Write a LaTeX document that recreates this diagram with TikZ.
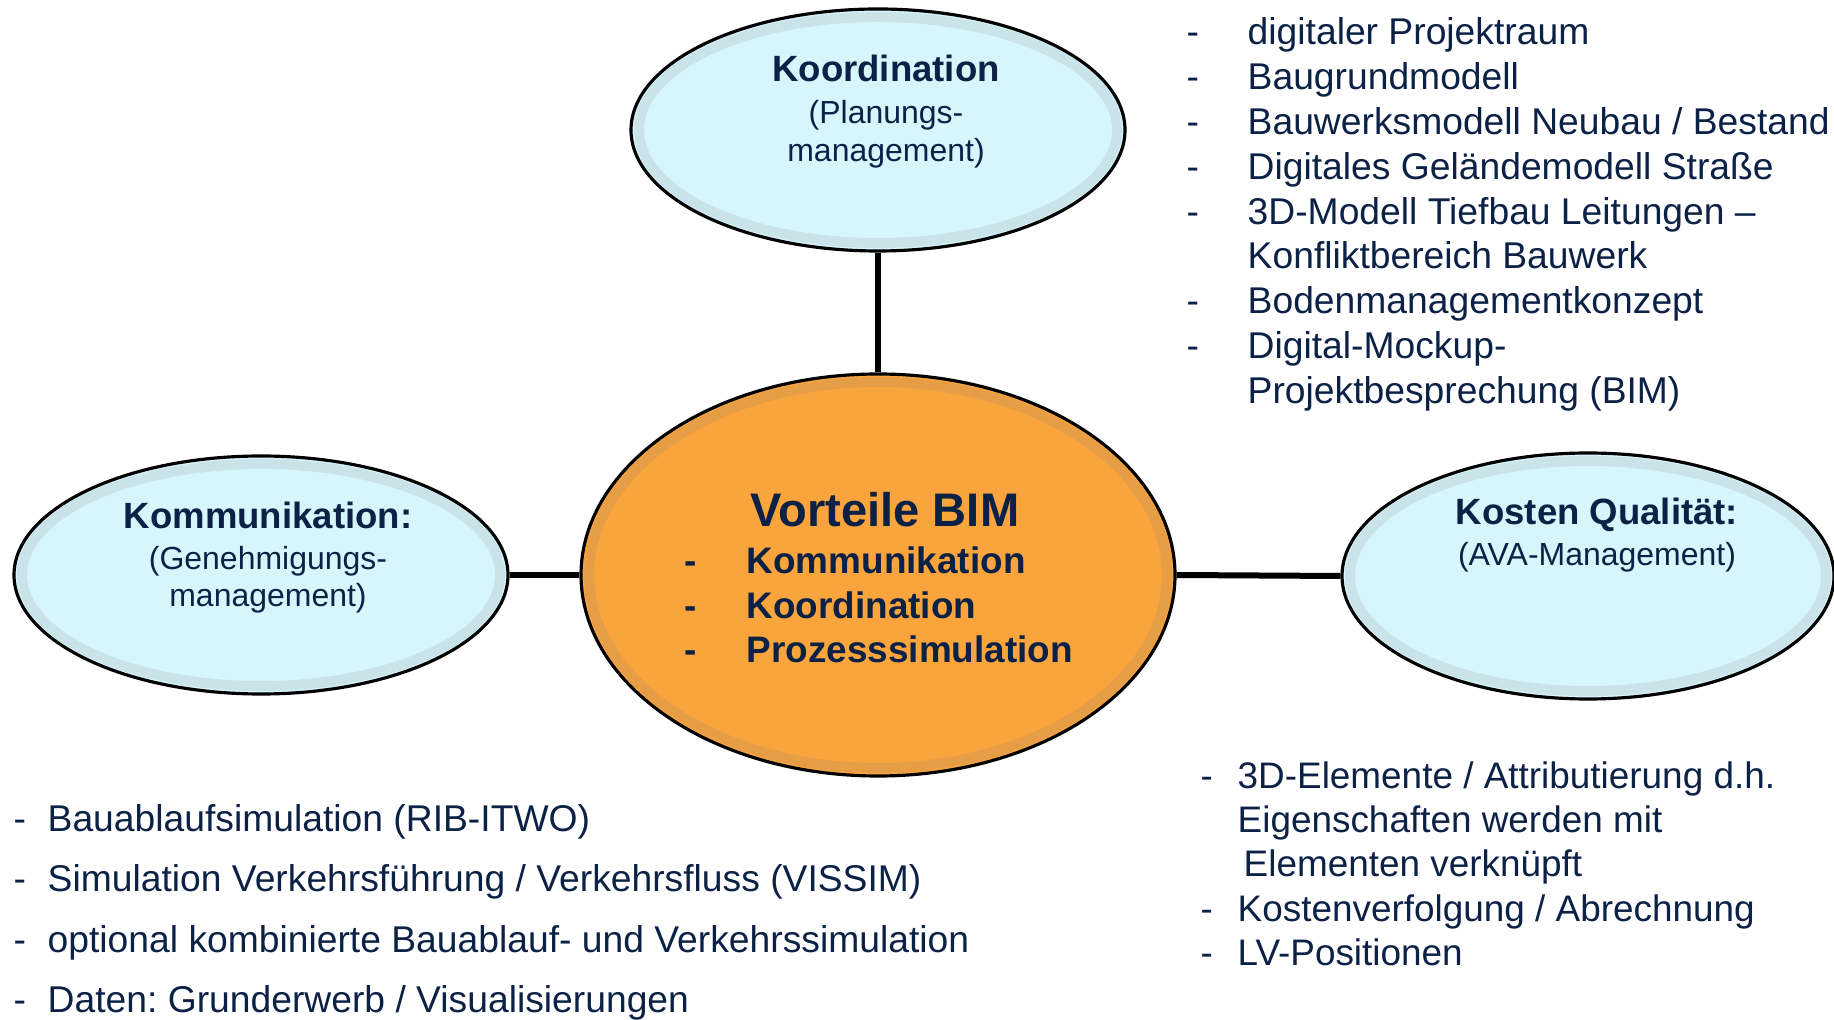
\documentclass[tikz,border=0pt]{standalone}
\usepackage{fontspec}
\setmainfont{Liberation Sans}
\usetikzlibrary{shapes.geometric}
\frenchspacing

\begin{document}
\begin{tikzpicture}[
    blase/.style={ellipse, draw=black, line width=0.9pt, inner sep=0pt},
    rand/.style={line width=0.10cm, draw=gray, opacity=0.16},
    verbinder/.style={line width=0.06cm, draw=black},
    kopf/.style={font=\fontsize{10.4}{12.5}\selectfont\bfseries, text=r12g33b70, inner sep=0pt},
    unterzeile/.style={font=\fontsize{9.1}{11}\selectfont, text=r12g33b70, inner sep=0pt},
    punkt/.style={font=\fontsize{10.6}{12.7}\selectfont, text=r12g33b70, inner sep=0pt, anchor=base west},
    mitte/.style={font=\fontsize{10.5}{12.7}\selectfont\bfseries, text=r12g33b70, inner sep=0pt, anchor=base west}
  ]
  \useasboundingbox (0,0) rectangle (18.340000,10.190000);

  % Changing color 215 246 252
  \definecolor{r215g246b252}{rgb}{0.843137,0.964706,0.988235}%
  % Changing color 249 164 60
  \definecolor{r249g164b60}{rgb}{0.976471,0.643137,0.235294}%
  % Changing color 12 33 70
  \definecolor{r12g33b70}{rgb}{0.047059,0.129412,0.274510}%

  % Drawing ellipse Koordination
  \node [blase, fill=r215g246b252, minimum width=4.940000cm, minimum height=2.420000cm] (koord) at (8.780000,8.890000) {};
  \draw [rand] (koord.center) ellipse (2.390000 and 1.130000);%

  % Drawing ellipse Vorteile BIM
  \node [blase, fill=r249g164b60, minimum width=5.940000cm, minimum height=4.020000cm] (vorteile) at (8.780000,4.440000) {};
  \draw [rand] (vorteile.center) ellipse (2.890000 and 1.930000);%

  % Drawing ellipse Kommunikation
  \node [blase, fill=r215g246b252, minimum width=4.940000cm, minimum height=2.380000cm] (komm) at (2.610000,4.440000) {};
  \draw [rand] (komm.center) ellipse (2.390000 and 1.110000);%

  % Drawing ellipse Kosten Qualitaet
  \node [blase, fill=r215g246b252, minimum width=4.920000cm, minimum height=2.460000cm] (kosten) at (15.880000,4.430000) {};
  \draw [rand] (kosten.center) ellipse (2.380000 and 1.150000);%

  % Drawing segments to Vorteile BIM
  \draw [verbinder] (koord.south) -- (vorteile.north);%
  \draw [verbinder] (komm.east) -- (vorteile.west);%
  \draw [verbinder] (vorteile.east) -- (kosten.west);%

  % Marking texts Koordination
  \node [kopf, anchor=base] (koordtitel) at (8.860000,9.370000) {Koordination};%
  \node [unterzeile, anchor=base] (koordzeile1) at (8.860000,8.950000) {(Planungs-};%
  \node [unterzeile, anchor=base] (koordzeile2) at (8.860000,8.570000) {management)};%

  % Marking texts Vorteile BIM
  \node [kopf, anchor=base, font=\fontsize{13.4}{16}\selectfont\bfseries] (vorteiletitel) at (8.850000,4.920000) {Vorteile BIM};%
  \node [mitte] (vorteile1) at (6.840000,4.450000) {\makebox[0.620000cm][l]{-}Kommunikation};%
  \node [mitte] (vorteile2) at (6.840000,4.000000) {\makebox[0.620000cm][l]{-}Koordination};%
  \node [mitte] (vorteile3) at (6.840000,3.560000) {\makebox[0.620000cm][l]{-}Prozesssimulation};%

  % Marking texts Kommunikation
  \node [kopf, anchor=base] (kommtitel) at (2.680000,4.900000) {Kommunikation:};%
  \node [unterzeile, anchor=base] (kommzeile1) at (2.680000,4.490000) {(Genehmigungs-};%
  \node [unterzeile, anchor=base] (kommzeile2) at (2.680000,4.120000) {management)};%

  % Marking texts Kosten Qualitaet
  \node [kopf, anchor=base] (kostentitel) at (15.970000,4.940000) {Kosten Qualität:};%
  \node [unterzeile, anchor=base] (kostenzeile1) at (15.970000,4.530000) {(AVA-Management)};%

  % Marking list Projektraum
  \node [punkt] (raum1) at (11.860000,9.740000) {\makebox[0.610000cm][l]{-}digitaler Projektraum};%
  \node [punkt] (raum2) at (11.860000,9.292000) {\makebox[0.610000cm][l]{-}Baugrundmodell};%
  \node [punkt] (raum3) at (11.860000,8.844000) {\makebox[0.610000cm][l]{-}Bauwerksmodell Neubau / Bestand};%
  \node [punkt] (raum4) at (11.860000,8.396000) {\makebox[0.610000cm][l]{-}Digitales Geländemodell Straße};%
  \node [punkt] (raum5) at (11.860000,7.948000) {\makebox[0.610000cm][l]{-}3D-Modell Tiefbau Leitungen –};%
  \node [punkt] (raum6) at (11.860000,7.500000) {\makebox[0.610000cm][l]{}Konfliktbereich Bauwerk};%
  \node [punkt] (raum7) at (11.860000,7.052000) {\makebox[0.610000cm][l]{-}Bodenmanagementkonzept};%
  \node [punkt] (raum8) at (11.860000,6.604000) {\makebox[0.610000cm][l]{-}Digital-Mockup-};%
  \node [punkt] (raum9) at (11.860000,6.156000) {\makebox[0.610000cm][l]{}Projektbesprechung (BIM)};%

  % Marking list Kosten
  \node [punkt, font=\fontsize{10.5}{12.7}\selectfont] (ava1) at (12.000000,2.310000) {\makebox[0.370000cm][l]{-}3D-Elemente / Attributierung d.h.};%
  \node [punkt, font=\fontsize{10.5}{12.7}\selectfont] (ava2) at (12.000000,1.866000) {\makebox[0.370000cm][l]{}Eigenschaften werden mit};%
  \node [punkt, font=\fontsize{10.5}{12.7}\selectfont] (ava3) at (12.000000,1.422000) {\makebox[0.430000cm][l]{}Elementen verknüpft};%
  \node [punkt, font=\fontsize{10.5}{12.7}\selectfont] (ava4) at (12.000000,0.978000) {\makebox[0.370000cm][l]{-}Kostenverfolgung / Abrechnung};%
  \node [punkt, font=\fontsize{10.5}{12.7}\selectfont] (ava5) at (12.000000,0.534000) {\makebox[0.370000cm][l]{-}LV-Positionen};%

  % Marking list Simulation
  \node [punkt] (sim1) at (0.130000,1.880000) {\makebox[0.340000cm][l]{-}Bauablaufsimulation (RIB-ITWO)};%
  \node [punkt] (sim2) at (0.130000,1.275000) {\makebox[0.340000cm][l]{-}Simulation Verkehrsführung / Verkehrsfluss (VISSIM)};%
  \node [punkt] (sim3) at (0.130000,0.670000) {\makebox[0.340000cm][l]{-}optional kombinierte Bauablauf- und Verkehrssimulation};%
  \node [punkt] (sim4) at (0.130000,0.065000) {\makebox[0.340000cm][l]{-}Daten: Grunderwerb / Visualisierungen};%
\end{tikzpicture}
\end{document}
